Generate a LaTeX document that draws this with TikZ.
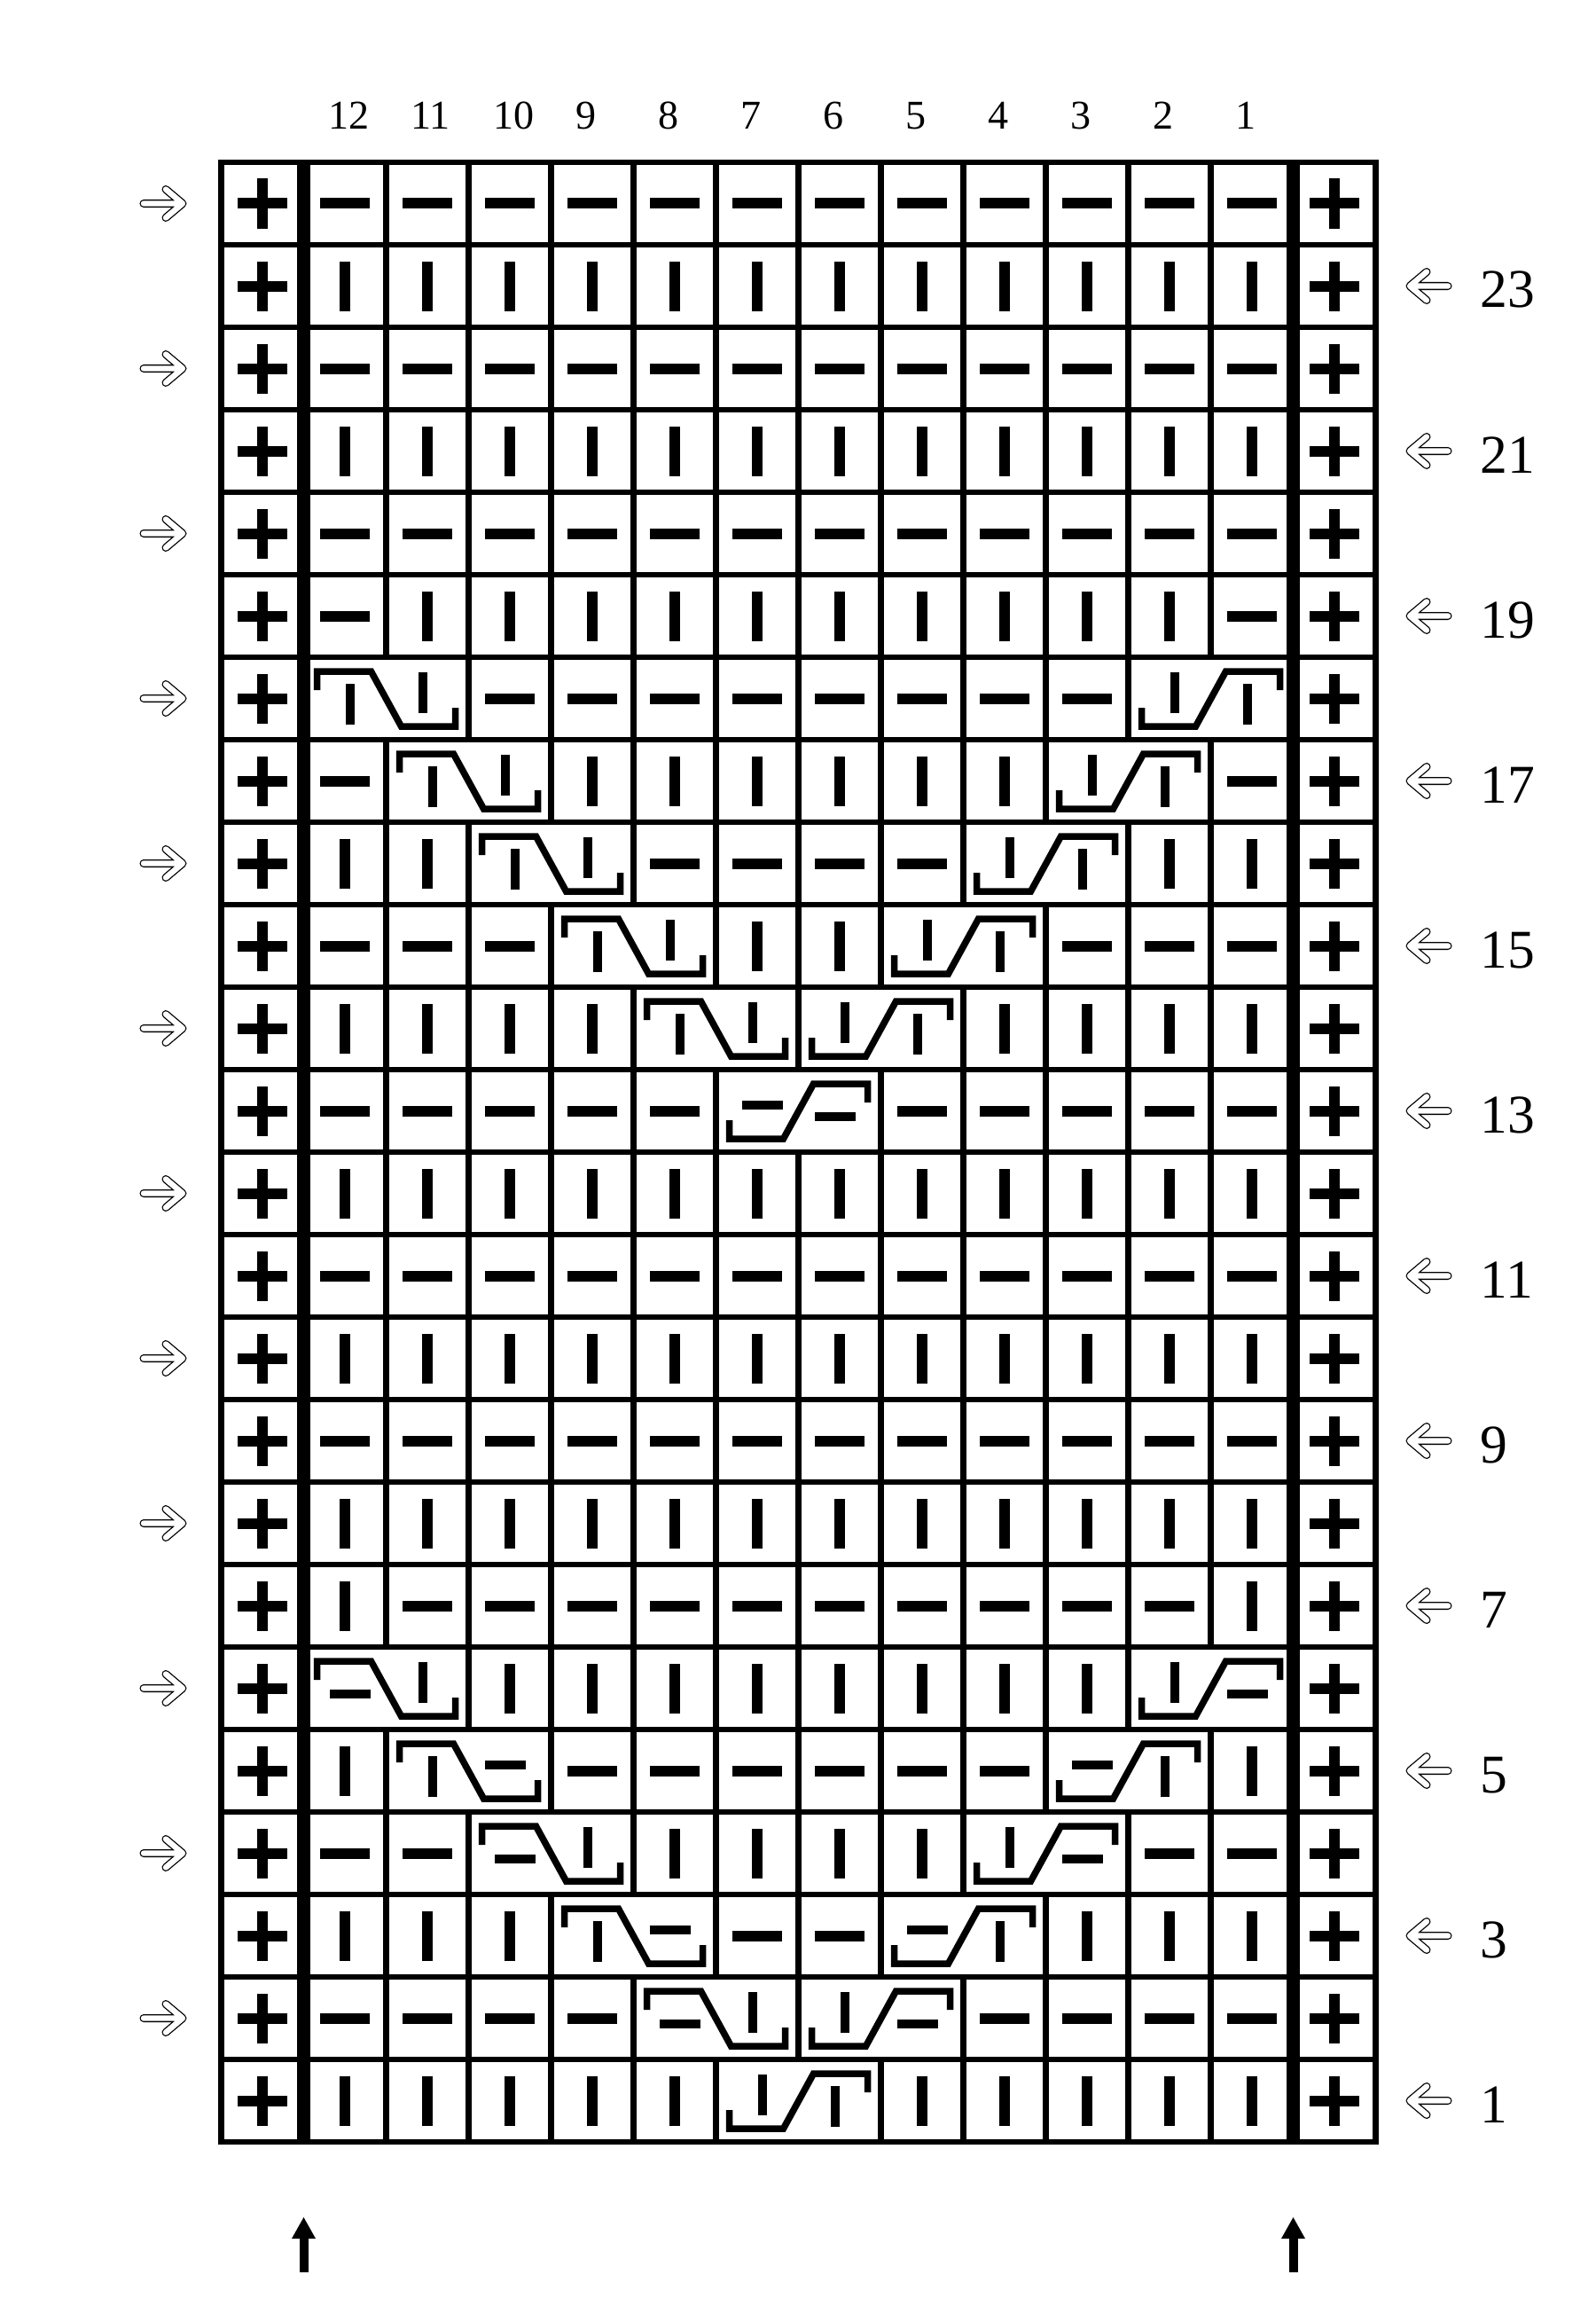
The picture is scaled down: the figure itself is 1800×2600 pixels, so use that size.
\documentclass[tikz,border=0pt]{standalone}
\usepackage{fontspec}
\setmainfont{Liberation Serif}
\tikzset{
  gridline/.style={line width=0.067cm},
  thickline/.style={line width=0.145cm},
  cableline/.style={line width=0.075cm, line join=miter},
  rowlab/.style={inner sep=0pt, anchor=base west, font=\fontsize{17.5pt}{20pt}\selectfont},
  collab/.style={inner sep=0pt, anchor=base west, font=\fontsize{13.1pt}{15pt}\selectfont},
  arrowout/.style={line width=0.09cm, line cap=round, line join=round, black},
  arrowin/.style={line width=0.064cm, line cap=round, line join=round, white},
}
% small symbols inside cable cells
\newcommand\smk[2]{\fill ({#1-5},{#2-23}) rectangle ({#1+5},{#2+23});}
\newcommand\smp[2]{\fill ({#1-23},{#2-5}) rectangle ({#1+23},{#2+5});}
% single cells
\newcommand\kcp{\draw[gridline] (0,0) rectangle (93,93);
  \fill (40.5,18.5) rectangle (52.5,74.5); \fill (18.5,40.5) rectangle (74.5,52.5);}
\newcommand\kck{\draw[gridline] (0,0) rectangle (93,93);
  \fill (40.5,18.5) rectangle (52.5,74.5);}
\newcommand\kcu{\draw[gridline] (0,0) rectangle (93,93);
  \fill (18.5,40.5) rectangle (74.5,52.5);}
\newcommand\kcs{}
% cables
\newcommand\cabA{\draw[gridline] (0,0) rectangle (186,93);
  \draw[cableline] (15,37) -- (15,16) -- (76,16) -- (110,78) -- (171,78) -- (171,57);}
\newcommand\cabB{\draw[gridline] (0,0) rectangle (186,93);
  \draw[cableline] (171,37) -- (171,16) -- (110,16) -- (76,78) -- (15,78) -- (15,57);}
\newcommand\kcAkk{\cabA \smk{52}{53} \smk{134}{40}}
\newcommand\kcAuk{\cabA \smp{52}{53} \smk{134}{40}}
\newcommand\kcAku{\cabA \smk{52}{53} \smp{134}{40}}
\newcommand\kcBkk{\cabB \smk{52}{40} \smk{134}{53}}
\newcommand\kcBuu{\cabB \smp{52}{40} \smp{134}{53}}
\newcommand\kcBku{\cabB \smk{52}{40} \smp{134}{53}}
\newcommand\kcBuk{\cabB \smp{52}{40} \smk{134}{53}}
\begin{document}
\begin{tikzpicture}[x=0.01cm, y=-0.01cm]
\fill[white] (0,0) rectangle (1800,2600);
\useasboundingbox (0,0) rectangle (1800,2600);
% chart cells, rows from top (row 24) to bottom (row 1)
\foreach \row [count=\i from 0] in {
 {p,u,u,u,u,u,u,u,u,u,u,u,u,p},
 {p,k,k,k,k,k,k,k,k,k,k,k,k,p},
 {p,u,u,u,u,u,u,u,u,u,u,u,u,p},
 {p,k,k,k,k,k,k,k,k,k,k,k,k,p},
 {p,u,u,u,u,u,u,u,u,u,u,u,u,p},
 {p,u,k,k,k,k,k,k,k,k,k,k,u,p},
 {p,Akk,s,u,u,u,u,u,u,u,u,Bkk,s,p},
 {p,u,Akk,s,k,k,k,k,k,k,Bkk,s,u,p},
 {p,k,k,Akk,s,u,u,u,u,Bkk,s,k,k,p},
 {p,u,u,u,Akk,s,k,k,Bkk,s,u,u,u,p},
 {p,k,k,k,k,Akk,s,Bkk,s,k,k,k,k,p},
 {p,u,u,u,u,u,Buu,s,u,u,u,u,u,p},
 {p,k,k,k,k,k,k,k,k,k,k,k,k,p},
 {p,u,u,u,u,u,u,u,u,u,u,u,u,p},
 {p,k,k,k,k,k,k,k,k,k,k,k,k,p},
 {p,u,u,u,u,u,u,u,u,u,u,u,u,p},
 {p,k,k,k,k,k,k,k,k,k,k,k,k,p},
 {p,k,u,u,u,u,u,u,u,u,u,u,k,p},
 {p,Auk,s,k,k,k,k,k,k,k,k,Bku,s,p},
 {p,k,Aku,s,u,u,u,u,u,u,Buk,s,k,p},
 {p,u,u,Auk,s,k,k,k,k,Bku,s,u,u,p},
 {p,k,k,k,Aku,s,u,u,Buk,s,k,k,k,p},
 {p,u,u,u,u,Auk,s,Bku,s,u,u,u,u,p},
 {p,k,k,k,k,k,Bkk,s,k,k,k,k,k,p}}{
  \foreach \c [count=\j from 0] in \row {
    \begin{scope}[shift={({249.5+93*\j},{183+93*\i})}]
      \csname kc\c\endcsname
    \end{scope}
  }
}
% border and thick edge-column lines
\draw[thickline] (342.5,183) -- (342.5,2415);
\draw[thickline] (1458.5,183) -- (1458.5,2415);
\draw[gridline] (249.5,183) rectangle (1551.5,2415);
% column numbers
\foreach \n in {1,...,12} {
  \pgfmathsetmacro\xx{249.5+93*(13-\n)+27}
  \node[collab] (c\n) at (\xx,146) {\n};
}
% left arrows (even rows)
\foreach \i in {0,2,...,22} {
  \pgfmathsetmacro\cy{229.5+93*\i}
  \draw[arrowout] (162,\cy) -- (205,\cy) (187,\cy-16) -- (206,\cy) -- (187,\cy+16);
  \draw[arrowin] (162,\cy) -- (205,\cy) (187,\cy-16) -- (206,\cy) -- (187,\cy+16);
}
% right arrows and row numbers (odd rows)
\foreach \i in {1,3,...,23} {
  \pgfmathsetmacro\cy{229.5+93*\i}
  \pgfmathtruncatemacro\n{24-\i}
  \draw[arrowout] (1633,\cy) -- (1591,\cy) (1609,\cy-16) -- (1590,\cy) -- (1609,\cy+16);
  \draw[arrowin] (1633,\cy) -- (1591,\cy) (1609,\cy-16) -- (1590,\cy) -- (1609,\cy+16);
  \node[rowlab] (r\n) at (1669,\cy+24.5) {\n};
}
% bottom arrows
\foreach \x in {342.5,1458.5} {
  \fill (\x-5,2562) rectangle (\x+5,2520);
  \fill (\x,2500) -- (\x-13.5,2524) -- (\x+13.5,2524) -- cycle;
}
\end{tikzpicture}
\end{document}
